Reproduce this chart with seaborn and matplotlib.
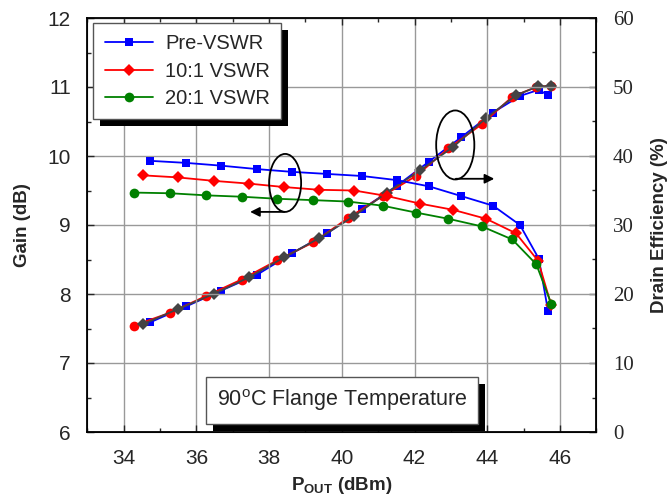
import numpy as np
import pandas as pd
import seaborn as sns
import matplotlib.pyplot as plt
from matplotlib.patches import Ellipse
from matplotlib.ticker import MultipleLocator
import matplotlib.patheffects as pe

sns.set_style("white")
plt.rcParams['font.family'] = ['Liberation Sans', 'DejaVu Sans']
plt.rcParams['mathtext.fontset'] = 'custom'
plt.rcParams['mathtext.rm'] = 'Liberation Sans'
plt.rcParams['mathtext.bf'] = 'Liberation Sans:bold'

# Gain data (left axis)
pout_pre = [34.73, 35.72, 36.68, 37.67, 38.63, 39.60, 40.56, 41.52, 42.40, 43.28, 44.16, 44.90, 45.42, 45.67]
gain_pre = [9.93, 9.90, 9.86, 9.81, 9.77, 9.74, 9.71, 9.65, 9.56, 9.42, 9.28, 9.00, 8.51, 7.76]
pout_10 = [34.52, 35.48, 36.47, 37.44, 38.41, 39.38, 40.34, 41.24, 42.15, 43.06, 43.97, 44.79, 45.40, 45.76]
gain_10 = [9.72, 9.69, 9.64, 9.60, 9.55, 9.51, 9.50, 9.42, 9.31, 9.22, 9.09, 8.88, 8.48, 7.84]
pout_20 = [34.27, 35.28, 36.26, 37.24, 38.23, 39.22, 40.17, 41.12, 42.04, 42.93, 43.85, 44.69, 45.35, 45.76]
gain_20 = [9.47, 9.46, 9.43, 9.41, 9.38, 9.36, 9.34, 9.28, 9.18, 9.09, 8.98, 8.79, 8.43, 7.86]

# Drain efficiency data (right axis)
eff_pre = [15.9, 18.2, 20.5, 22.8, 25.9, 28.8, 32.3, 35.7, 39.2, 42.7, 46.3, 48.7, 49.6, 48.8]
eff_20 = [15.4, 17.3, 19.7, 22.1, 24.9, 27.5, 31.0, 34.2, 37.1, 41.1, 44.6, 48.6, 50.0, 50.2]
eff_10 = [15.6, 17.8, 20.0, 22.4, 25.3, 28.1, 31.3, 34.7, 37.9, 41.3, 45.5, 48.8, 50.1, 50.1]

labels = ["Pre-VSWR", "10:1 VSWR", "20:1 VSWR"]

fig = plt.figure(figsize=(6.67, 5), dpi=100)
ax = fig.add_axes([0.131, 0.136, 0.763, 0.828])
ax2 = ax.twinx()

# gain curves
sns.lineplot(x=pout_pre, y=gain_pre, ax=ax, color='blue', marker='s', markersize=6,
             markeredgewidth=0, lw=1.3, sort=False, label=labels[0])
sns.lineplot(x=pout_10, y=gain_10, ax=ax, color='red', marker='D', markersize=6,
             markeredgewidth=0, lw=1.3, sort=False, label=labels[1])
sns.lineplot(x=pout_20, y=gain_20, ax=ax, color='green', marker='o', markersize=7,
             markeredgewidth=0, lw=1.3, sort=False, label=labels[2])

# efficiency curves
sns.lineplot(x=pout_pre, y=eff_pre, ax=ax2, color='blue', marker='s', markersize=6,
             markeredgewidth=0, lw=1.3, sort=False, legend=False)
sns.lineplot(x=pout_20, y=eff_20, ax=ax2, color='red', marker='o', markersize=7,
             markeredgewidth=0, lw=1.3, sort=False, legend=False)
sns.lineplot(x=pout_10, y=eff_10, ax=ax2, color='#444444', marker='D', markersize=6,
             markeredgewidth=0, lw=1.3, sort=False, legend=False)

ax.set_xlim(33, 47)
ax.set_ylim(6, 12)
ax2.set_ylim(0, 60)
ax.xaxis.set_major_locator(MultipleLocator(2))
ax.xaxis.set_minor_locator(MultipleLocator(1))
ax.yaxis.set_major_locator(MultipleLocator(1))
ax.yaxis.set_minor_locator(MultipleLocator(0.5))
ax2.yaxis.set_major_locator(MultipleLocator(10))
ax2.yaxis.set_minor_locator(MultipleLocator(5))

ax.grid(True, which='major', color='#999999', lw=1)
ax.set_axisbelow(True)
ax.set_zorder(ax2.get_zorder() + 1)
ax.patch.set_visible(False)

ax.tick_params(axis='x', which='both', direction='in', top=True, bottom=True, labelsize=15, pad=12)
ax.tick_params(axis='y', which='both', direction='in', left=True, right=False, labelsize=15, pad=12)
ax.tick_params(which='major', length=5, width=1)
ax.tick_params(which='minor', length=3, width=1)
ax2.tick_params(axis='y', which='both', direction='in', right=True, labelsize=15, pad=12)
ax2.tick_params(which='major', length=5, width=1)
ax2.tick_params(which='minor', length=3, width=1)
for t in ax2.get_yticklabels():
    t.set_family(['Liberation Serif', 'DejaVu Serif'])

for sp in ax.spines.values():
    sp.set_color('black')
    sp.set_linewidth(1.3)

ax.set_xlabel(r'P$_\mathbf{OUT}$ (dBm)', fontsize=13.5, fontweight='bold', labelpad=5)
ax.set_ylabel('Gain (dB)', fontsize=13.5, fontweight='bold', labelpad=12)
ax2.set_ylabel('Drain Efficiency (%)', fontsize=13.5, fontweight='bold', labelpad=12)

leg = ax.legend(loc='upper left', bbox_to_anchor=(0.012, 0.987), fontsize=14.5,
                frameon=True, fancybox=False, edgecolor='#555555', framealpha=1,
                handlelength=2.4, handletextpad=0.6, borderpad=0.55, labelspacing=0.42,
                borderaxespad=0)
leg.get_frame().set_linewidth(1)
leg.get_frame().set_path_effects([pe.SimplePatchShadow(offset=(5, -5), shadow_rgbFace='k', alpha=1), pe.Normal()])

txt = ax.text(40.0, 6.46, r'90$^\mathrm{o}$C Flange Temperature', fontsize=15.5,
              ha='center', va='center', zorder=10,
              bbox=dict(boxstyle='square,pad=0.5', fc='white', ec='#555555', lw=1))
txt.get_bbox_patch().set_path_effects([pe.SimplePatchShadow(offset=(5, -5), shadow_rgbFace='k', alpha=1), pe.Normal()])

# ellipses and arrows
ax.add_patch(Ellipse((38.44, 9.61), 0.88, 0.84, fill=False, ec='black', lw=1.3, zorder=6))
ax.annotate('', xy=(37.40, 9.19), xytext=(38.5, 9.19),
            arrowprops=dict(arrowstyle='-|>', color='black', lw=1.3, mutation_scale=14), zorder=6)
ax.add_patch(Ellipse((43.12, 10.16), 1.05, 1.0, fill=False, ec='black', lw=1.3, zorder=6))
ax.annotate('', xy=(44.27, 9.67), xytext=(43.06, 9.67),
            arrowprops=dict(arrowstyle='-|>', color='black', lw=1.3, mutation_scale=14), zorder=6)

fig.savefig('out.png', dpi=100)
